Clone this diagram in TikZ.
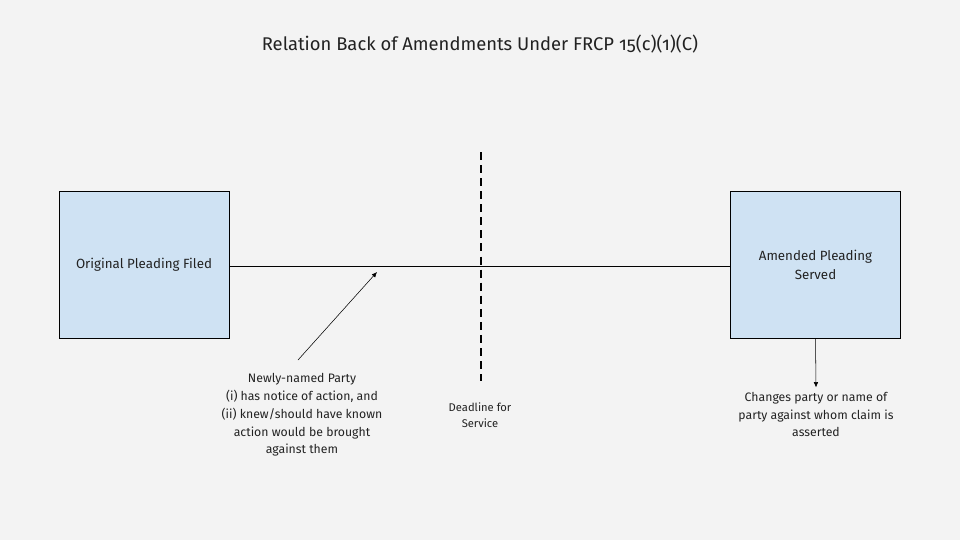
\documentclass[tikz,border=0pt]{standalone}
\definecolor{PageGray}{HTML}{F3F3F3}
\definecolor{BoxBlue}{HTML}{CFE2F3}
\definecolor{InkGray}{HTML}{222222}
\usepackage{fontspec}
\setmainfont{Fira Sans}[Numbers=OldStyle]
\usepackage{tikz}
\usetikzlibrary{arrows.meta,positioning}

\begin{document}
\begin{tikzpicture}[x=0.75pt,y=-0.75pt,
    pleading/.style={draw=black,fill=BoxBlue,minimum width=127.5pt,
      minimum height=110pt,align=center,text=InkGray,
      font=\fontsize{10}{14.2}\selectfont},
    note/.style={align=center,text=InkGray,
      font=\fontsize{9.2}{13.3}\selectfont}]
        % background
        \fill[PageGray] (0,0) rectangle (960,540);
        % title
        \node[text=InkGray,font=\fontsize{13.8}{16}\selectfont]
              (title) at (480,44) {Relation Back of Amendments Under FRCP 15(c)(1)(C)};
        % pleadings
        \node[pleading] (orig) at (144,264.5) {Original Pleading Filed};
        \node[pleading] (amended) at (815.5,264.5) {Amended Pleading\\ Served};
        \draw[black] (orig.east |- 0,266) -- (amended.west |- 0,266);
        % deadline
        \coordinate (dltop) at (481,152);
        \coordinate (dlbot) at (481,381);
        \draw[line width=2.2pt,dash pattern=on 6pt off 3.8pt] (dltop) -- (dlbot);
        \node[note,font=\fontsize{8.4}{12}\selectfont]
              (deadline) at (480,415) {Deadline for\\ Service};
        % newly-named party
        \node[note] (newparty) at (302,415)
              {Newly-named Party\\ (i) has notice of action, and\\
               (ii) knew/should have known\\ action would be brought\\ against them};
        \coordinate (npfoot) at (298,360);
        \coordinate (nptip) at (377,272);
        \draw[-{Latex[length=4pt,width=3.5pt]}] (npfoot) -- (nptip);
        % change of party
        \node[note] (changes) at (816,414.5)
              {Changes party or name of\\ party against whom claim is\\ asserted};
        \draw[-{Latex[length=4pt,width=3.5pt]}] (amended.south) -- (changes.north);
      \end{tikzpicture}
\end{document}
